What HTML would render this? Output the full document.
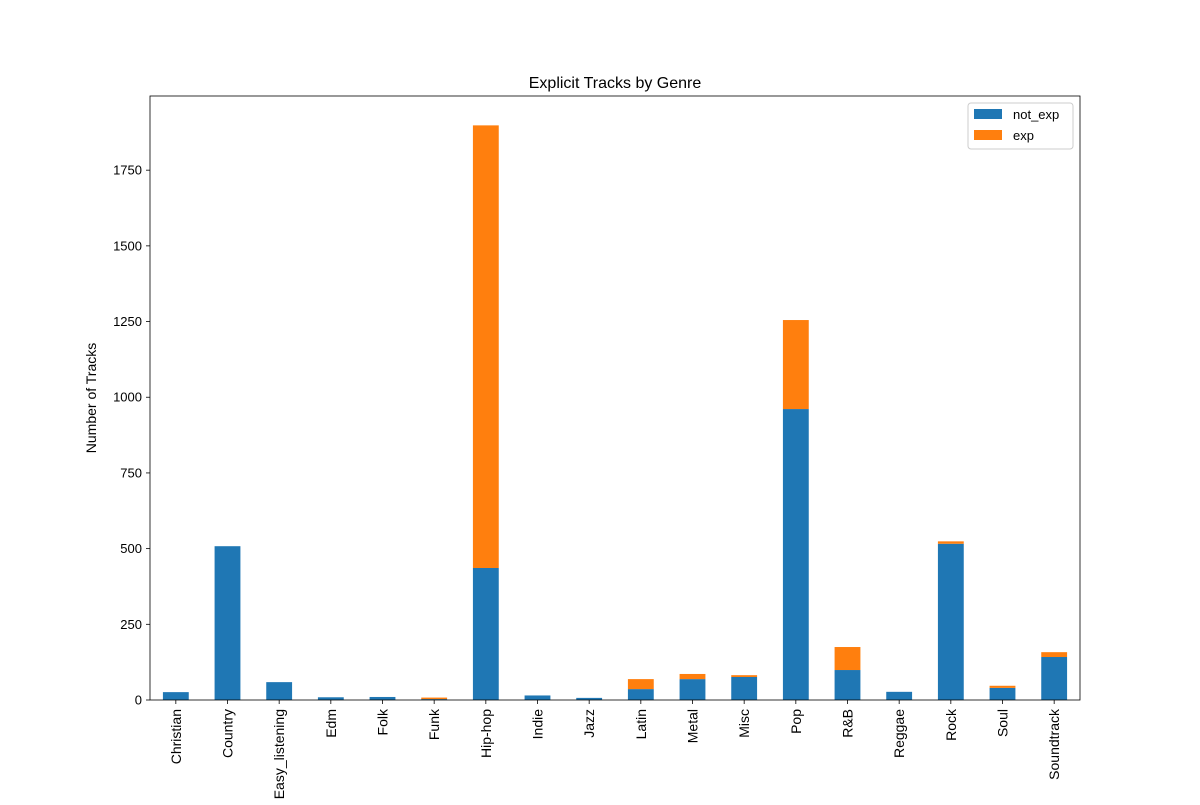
<!DOCTYPE html>
<html><head><meta charset="utf-8"><style>
body{margin:0;background:#fff;}
svg{font-family:"Liberation Sans","DejaVu Sans",sans-serif;}
</style></head><body>
<svg id="chart" width="1200" height="800"></svg>
<script>
const categories=["Christian","Country","Easy_listening","Edm","Folk","Funk","Hip-hop","Indie","Jazz","Latin","Metal","Misc","Pop","R&B","Reggae","Rock","Soul","Soundtrack"];
const notExp=[26,508,59,9,10,3,436,15,7,36,69,76,961,99,27,516,40,142];
const exp=[0,0,0,0,0,5,1462,0,0,33,17,6,294,76,0,8,7,16];
const yTicks=[0,250,500,750,1000,1250,1500,1750];
const seriesNames=["not_exp","exp"];

const NS="http://www.w3.org/2000/svg";
const svg=document.getElementById('chart');
const L=150,R=1080,T=96,B=700,yMax=1995;
function y(v){return B-v*(B-T)/yMax;}
const step=(R-L)/categories.length;
function xc(i){return L+step*(i+0.5);}
function mk(tag,attrs,parent){const e=document.createElementNS(NS,tag);for(const k in attrs)e.setAttribute(k,attrs[k]);(parent||svg).appendChild(e);return e;}

const title=mk('text',{x:615,y:88,'text-anchor':'middle','font-size':16});
title.textContent="Explicit Tracks by Genre";



const bw=step*0.5;
categories.forEach((c,i)=>{
  const b1=mk('rect',{x:xc(i)-bw/2,y:y(notExp[i]),width:bw,height:B-y(notExp[i]),fill:'#1f77b4'});
  
  
  const b2=mk('rect',{x:xc(i)-bw/2,y:y(notExp[i]+exp[i]),width:bw,height:y(notExp[i])-y(notExp[i]+exp[i]),fill:'#ff7f0e'});
  
  
  mk('line',{x1:xc(i),x2:xc(i),y1:B,y2:B+4,stroke:'#000','stroke-width':0.8});
  const t=mk('text',{x:0,y:0,'text-anchor':'end','font-size':14,transform:`translate(${xc(i)+5},${B+9}) rotate(-90)`});
  t.textContent=c;
  
  
});

yTicks.forEach(v=>{
  mk('line',{x1:L-4,x2:L,y1:y(v),y2:y(v),stroke:'#000','stroke-width':0.8});
  const t=mk('text',{x:L-8,y:y(v)+4.5,'text-anchor':'end','font-size':13});
  t.textContent=v;
  
  
});

const frame=mk('rect',{x:L,y:T,width:R-L,height:B-T,fill:'none',stroke:'#000','stroke-width':0.8});



const yl=mk('text',{x:0,y:0,'text-anchor':'middle','font-size':14,transform:`translate(96,${(T+B)/2}) rotate(-90)`});
yl.textContent="Number of Tracks";



const lg=mk('g',{});


mk('rect',{x:968,y:103,width:105,height:46,fill:'#fff',stroke:'#ccc',rx:3},lg);
const colors=['#1f77b4','#ff7f0e'];
seriesNames.forEach((n,i)=>{
  const sw=mk('rect',{x:974,y:109+i*21,width:28,height:10,fill:colors[i]},lg);
  
  
  const t=mk('text',{x:1013,y:119+i*21,'font-size':13},lg);
  t.textContent=n;
  
  
});
</script>
</body></html>
